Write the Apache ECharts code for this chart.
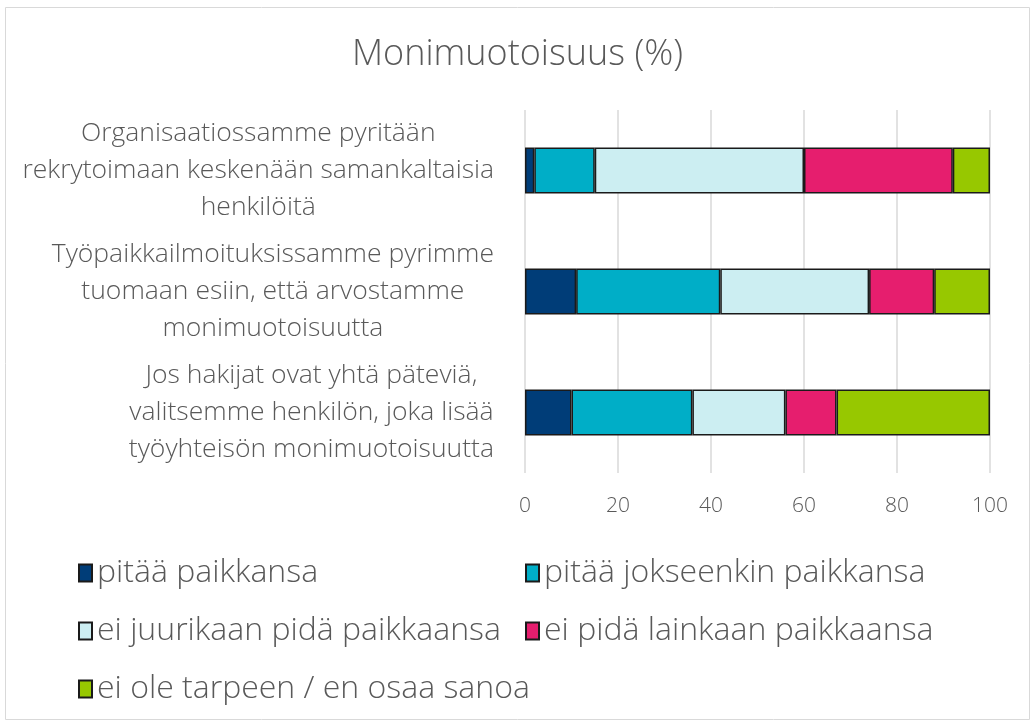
<!DOCTYPE html>
<html>
<head>
<meta charset="utf-8">
<script src="https://cdn.jsdelivr.net/npm/echarts@6/dist/echarts.min.js"></script>
<style>
  html, body { margin: 0; padding: 0; background: #fff; }
  #chart { width: 1035px; height: 726px; }
</style>
</head>
<body>
<div id="chart"></div>
<script>
const categories = [
  'Organisaatiossamme pyritään\nrekrytoimaan keskenään samankaltaisia\nhenkilöitä',
  'Työpaikkailmoituksissamme pyrimme\ntuomaan esiin, että arvostamme\nmonimuotoisuutta',
  'Jos hakijat ovat yhtä päteviä,\nvalitsemme henkilön, joka lisää\ntyöyhteisön monimuotoisuutta'
]
const seriesNames = [
  'pitää paikkansa',
  'pitää jokseenkin paikkansa',
  'ei juurikaan pidä paikkaansa',
  'ei pidä lainkaan paikkaansa',
  'ei ole tarpeen / en osaa sanoa'
]
const pitaa = [2, 11, 10]
const jokseenkin = [13, 31, 26]
const eiJuurikaan = [45, 32, 20]
const eiLainkaan = [32, 14, 11]
const eiTarpeen = [8, 12, 33]
const colors = ['#003D78', '#00AEC7', '#CCEEF2', '#E61E6E', '#97C800']

const values = [pitaa, jokseenkin, eiJuurikaan, eiLainkaan, eiTarpeen]
const textColor = '#595959'
const font = '"Open Sans", "Noto Sans", sans-serif'

const chart = echarts.init(document.getElementById('chart'))

chart.setOption({
  animation: false,
  color: colors,
  title: {
    text: 'Monimuotoisuus (%)',
    left: 'center',
    top: 32,
    textStyle: { color: textColor, fontSize: 36, fontWeight: 300, fontFamily: font },
  },
  graphic: [{
    type: 'rect',
    shape: { x: 5.5, y: 7.5, width: 1024, height: 712 },
    style: { fill: 'none', stroke: '#d9d9d9', lineWidth: 1 },
    silent: true,
  }],
  grid: { left: 525, right: 45, top: 110, bottom: 253 },
  xAxis: {
    type: 'value',
    min: 0,
    max: 100,
    interval: 20,
    axisLine: { show: false },
    axisTick: { show: false },
    splitLine: { lineStyle: { color: '#d9d9d9', width: 1.5 } },
    axisLabel: { color: textColor, fontSize: 21, fontWeight: 300, fontFamily: font, margin: 23 },
  },
  yAxis: {
    type: 'category',
    inverse: true,
    data: categories,
    axisLine: { show: false },
    axisTick: { show: false },
    axisLabel: {
      margin: 31,
      align: 'right',
      lineHeight: 37,
      formatter: v => v.split('\n').map(s => '{c|' + s + '}').join('\n'),
      rich: {
        c: { align: 'center', color: textColor, fontSize: 26.5, fontWeight: 300, lineHeight: 37, fontFamily: font },
      },
    },
  },
  legend: {
    data: seriesNames,
    left: 73,
    top: 544,
    width: 900,
    itemWidth: 13,
    itemHeight: 17,
    itemGap: 10,
    icon: 'rect',
    textStyle: { color: textColor, fontSize: 32, fontWeight: 300, fontFamily: font, width: 418, lineHeight: 48 },
  },
  series: seriesNames.map((name, i) => ({
    name,
    type: 'bar',
    stack: 'total',
    barWidth: 46,
    data: values[i],
    itemStyle: { color: colors[i], borderColor: '#1a1a1a', borderWidth: 1.5 },
  })),
})
</script>
</body>
</html>
